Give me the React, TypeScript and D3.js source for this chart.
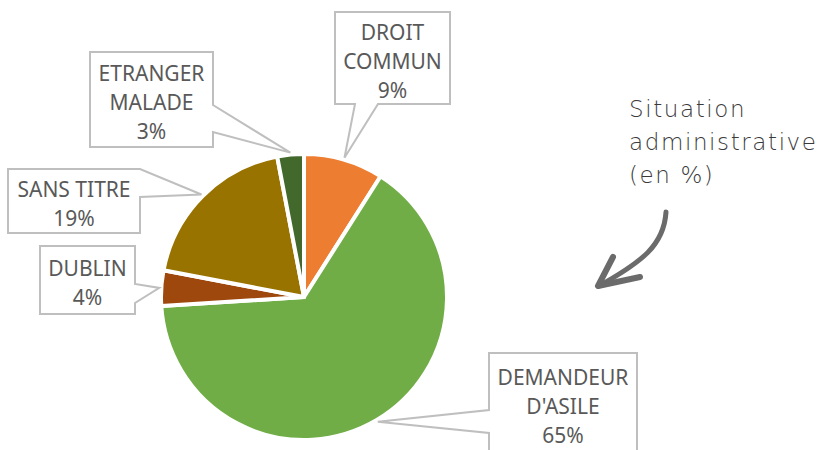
import React from 'react';
import * as d3 from 'd3';

// chart data
const categories = ["DROIT COMMUN", "DEMANDEUR D'ASILE", "DUBLIN", "SANS TITRE", "ETRANGER MALADE"];
const labelLines = [["DROIT", "COMMUN"], ["DEMANDEUR", "D'ASILE"], ["DUBLIN"], ["SANS TITRE"], ["ETRANGER", "MALADE"]];
const values = [9, 65, 4, 19, 3];
const colors = ["#ED7D31", "#70AD47", "#9E480E", "#997300", "#43682B"];
const titleLines = ["Situation", "administrative", "(en %)"];

// callout layout (box + side where the pointer leaves the box)
const callouts = [
  { x: 335, y: 12, w: 115, h: 92, side: 'bottom', b1: 355, b2: 378 },
  { x: 489, y: 353, w: 148, h: 100, side: 'left', b1: 410, b2: 433 },
  { x: 40, y: 246, w: 95, h: 68, side: 'right', b1: 284, b2: 303 },
  { x: 8, y: 169, w: 132, h: 64, side: 'right', b1: 169, b2: 197 },
  { x: 90, y: 52, w: 123, h: 95, side: 'right', b1: 105, b2: 132 },
];

const width = 819, height = 450;
const cx = 304, cy = 297, radius = 143;

function calloutPath(c, ax, ay) {
  const { x, y, w, h, side, b1, b2 } = c;
  const r = x + w, b = y + h;
  if (side === 'bottom') {
    return `M${x},${y}H${r}V${b}H${b2}L${ax},${ay}L${b1},${b}H${x}Z`;
  }
  if (side === 'left') {
    return `M${x},${y}H${r}V${b}H${x}V${b2}L${ax},${ay}L${x},${b1}Z`;
  }
  // right
  return `M${x},${y}H${r}V${b1}L${ax},${ay}L${r},${b2}V${b}H${x}Z`;
}

const App = () => {
  const pie = d3.pie<number>().sort(null).value(d => d);
  const arcs = pie(values);
  const arcGen = d3.arc<d3.PieArcDatum<number>>().innerRadius(0).outerRadius(radius);
  const anchorArc = d3.arc<d3.PieArcDatum<number>>().innerRadius(radius + 2).outerRadius(radius + 2);
  const total = d3.sum(values);

  return (
    <svg width={width} height={height} style={{ position: 'absolute', left: 0, top: 0, background: '#fff' }}>
      <g transform={`translate(${cx},${cy})`}>
        {arcs.map((a, i) => (
          <path key={categories[i]} d={arcGen(a) || ''} fill={colors[i]} stroke="#fff" strokeWidth={4} strokeLinejoin="round" />
        ))}
      </g>
      {arcs.map((a, i) => {
        const [ax, ay] = anchorArc.centroid(a);
        const c = callouts[i];
        const lines = [...labelLines[i], `${Math.round((values[i] / total) * 100)}%`];
        const mid = c.y + c.h / 2 + 3.5;
        return (
          <g key={categories[i]}>
            <path d={calloutPath(c, ax + cx, ay + cy)} fill="#fff" stroke="#BFBFBF" strokeWidth={2} />
            {lines.map((t, j) => (
              <text key={j} x={c.x + c.w / 2} y={mid + (j - (lines.length - 1) / 2) * 29 + 7}
                textAnchor="middle" fontFamily="'Noto Sans', sans-serif" fontSize={21} fill="#595959">{t}</text>
            ))}
          </g>
        );
      })}
      {titleLines.map((t, i) => (
        <text key={t} x={629} y={117 + i * 33} fontFamily="'DejaVu Sans', sans-serif" fontWeight={200}
          fontSize={23} letterSpacing={1.6} fill="#3A3A3A">{t}</text>
      ))}
      <g fill="none" stroke="#6B6B6B" strokeLinecap="round" strokeLinejoin="round">
        <path d="M666,212 C664,245 642,262 599,286" strokeWidth={5} />
        <path d="M613,257 L598,286 L640,277" strokeWidth={6} />
      </g>
    </svg>
  );
};

export default App;
